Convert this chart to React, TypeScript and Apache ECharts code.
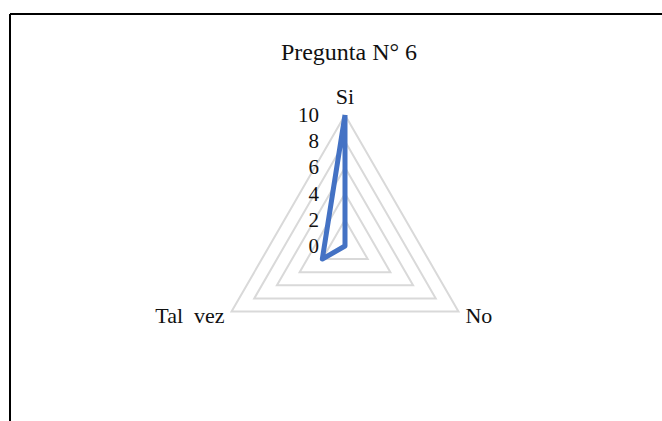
import React, { useEffect, useRef } from "react";
import * as echarts from "echarts";

const indicators = ["Si", "Tal  vez", "No"];
const maxValue = 10;
const values = [10, 2, 0];
const titleText = "Pregunta N° 6";

export default function App() {
  const ref = useRef<HTMLDivElement>(null);
  useEffect(() => {
    document.body.style.margin = "0";
    const chart = echarts.init(ref.current!, null, { renderer: "svg" });
    const font = "'Liberation Serif', 'Times New Roman', serif";
    chart.setOption({
      animation: false,
      backgroundColor: "#ffffff",
      title: {
        text: titleText,
        left: 344,
        top: 35,
        textAlign: "center",
        textStyle: { fontFamily: font, fontSize: 24, fontWeight: "normal", color: "#111" },
      },
      graphic: [
        { type: "line", shape: { x1: 10, y1: 14, x2: 662, y2: 14 }, style: { stroke: "#000", lineWidth: 2 } },
        { type: "line", shape: { x1: 10, y1: 14, x2: 10, y2: 421 }, style: { stroke: "#000", lineWidth: 2 } },
      ],
      radar: {
        center: [345, 246],
        radius: 131,
        startAngle: 90,
        shape: "polygon",
        splitNumber: 5,
        nameGap: 8,
        axisName: { color: "#111", fontFamily: font, fontSize: 22, padding: [6, 0, 0, 0] },
        splitLine: { lineStyle: { color: "#d9d9d9", width: 2 } },
        splitArea: { show: false },
        axisLine: { show: false },
        axisTick: { show: false },
        axisLabel: { show: false },
        indicator: indicators.map((name, i) => ({
          name,
          min: 0,
          max: maxValue,
          ...(i === 0
            ? { axisLabel: { show: true, margin: 26, color: "#111", fontFamily: font, fontSize: 21 } }
            : {}),
        })),
      },
      series: [
        {
          type: "radar",
          symbol: "none",
          lineStyle: { color: "#4472C4", width: 5 },
          data: [{ value: values, name: titleText }],
        },
      ],
    });
    return () => chart.dispose();
  }, []);
  return <div ref={ref} style={{ width: 662, height: 421, position: "absolute", left: 0, top: 0 }} />;
}
